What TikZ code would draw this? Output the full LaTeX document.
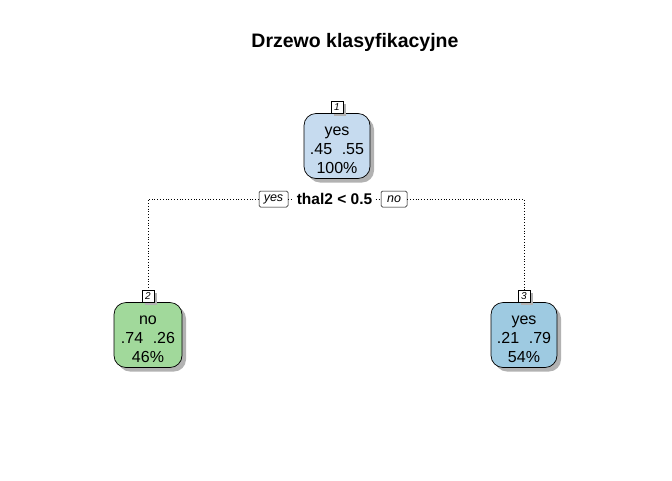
\documentclass[tikz,border=0pt]{standalone}
\usepackage{fontspec}
\setmainfont{Liberation Sans}
\usetikzlibrary{shadows}
\definecolor{nodeblue}{RGB}{198,219,239}
\definecolor{nodegreen}{RGB}{161,217,155}
\definecolor{nodeblue2}{RGB}{158,202,225}
\newcommand{\topstrut}{\rule{0pt}{16.5pt}}
\tikzset{
  leafbox/.style={draw=black, line width=0.7pt, rounded corners=12pt, minimum width=66pt, minimum height=65pt, inner sep=0pt, align=center, font=\fontsize{16}{19}\selectfont, drop shadow={shadow xshift=4pt, shadow yshift=-4pt, fill=black!30, opacity=1}},
  numbox/.style={draw=black, line width=0.5pt, fill=white, minimum width=12pt, minimum height=12pt, inner sep=0pt, font=\fontsize{10}{10}\selectfont\itshape, drop shadow={shadow xshift=3pt, shadow yshift=-3pt, fill=black!30, opacity=1}},
  edgebox/.style={draw=black, line width=0.5pt, fill=white, rounded corners=1.5pt, minimum height=16pt, minimum width=29pt, inner sep=1pt, font=\fontsize{12.5}{12.5}\selectfont\itshape},
  conn/.style={dotted, line width=0.8pt}
}
\begin{document}
\begin{tikzpicture}[x=1pt,y=-1pt]
\useasboundingbox (0,0) rectangle (672,480);
\node[font=\fontsize{19.5}{19.5}\selectfont\bfseries] (title) at (355,42) {Drzewo klasyfikacyjne};
% node 1
\node[leafbox, fill=nodeblue] (n1) at (337,146) {\topstrut yes\\.45\hspace{0.6em}.55\\100\%};
\node[numbox, anchor=south] (l1) at (n1.north) {1};
% split
\node[font=\fontsize{15.5}{15.5}\selectfont\bfseries] (split) at (334.5,199) {thal2 < 0.5};
\node[edgebox] (eyes) at (273.5,199) {yes};
\node[edgebox, minimum width=26pt] (eno) at (394,199) {no};
% node 2
\node[leafbox, fill=nodegreen, minimum width=68pt] (n2) at (148,335) {\topstrut no\\.74\hspace{0.6em}.26\\46\%};
\node[numbox, anchor=south] (l2) at (n2.north) {2};
% node 3
\node[leafbox, fill=nodeblue2] (n3) at (524,335) {\topstrut yes\\.21\hspace{0.6em}.79\\54\%};
\node[numbox, anchor=south] (l3) at (n3.north) {3};
% connectors
\draw[conn] (eyes.west) -| (l2.north);
\draw[conn] (eno.east) -| (l3.north);
\draw[conn] (eyes.east) -- (split.west);
\draw[conn] (split.east) -- (eno.west);
\end{tikzpicture}
\end{document}
